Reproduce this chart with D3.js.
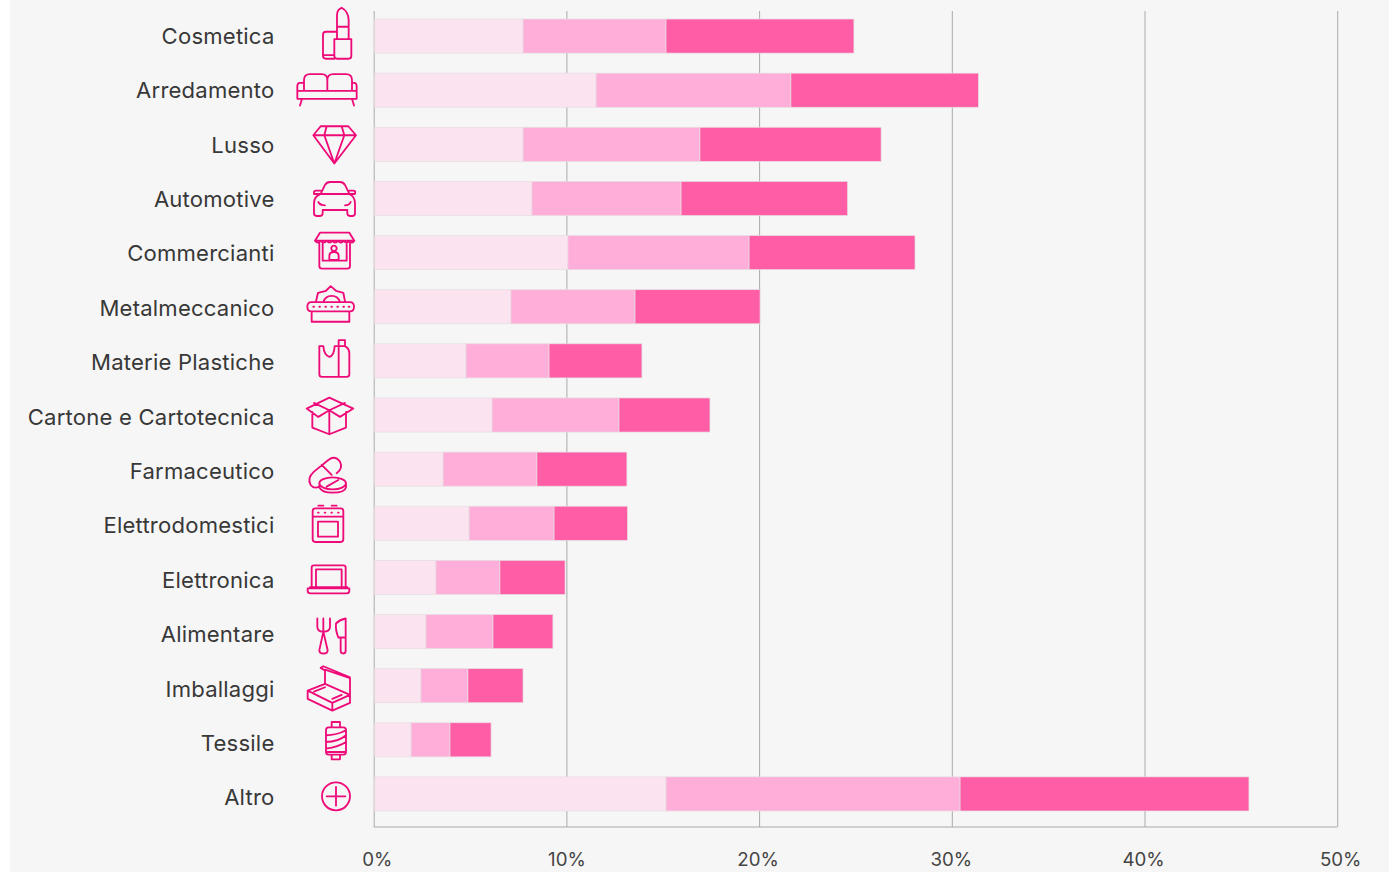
<!DOCTYPE html>
<html>
<head>
<meta charset="utf-8">
<script src="https://cdn.jsdelivr.net/npm/d3@7"></script>
<style>
html, body { margin: 0; padding: 0; background: #fff; overflow: hidden; }
svg { display: block; }
text { font-family: Inter, sans-serif; font-weight: 400; }
</style>
</head>
<body>
<div id="svg-area"></div>
<script>
// values (share in %, one array per stacked segment)
var categories = ["Cosmetica", "Arredamento", "Lusso", "Automotive", "Commercianti", "Metalmeccanico", "Materie Plastiche", "Cartone e Cartotecnica", "Farmaceutico", "Elettrodomestici", "Elettronica", "Alimentare", "Imballaggi", "Tessile", "Altro"];
var seriesA = [7.75, 11.54, 7.75, 8.21, 10.08, 7.12, 4.79, 6.14, 3.60, 4.95, 3.23, 2.71, 2.45, 1.94, 15.17];
var seriesB = [7.42, 10.11, 9.18, 7.74, 9.40, 6.44, 4.31, 6.59, 4.87, 4.41, 3.32, 3.48, 2.44, 2.02, 15.26];
var seriesC = [9.75, 9.73, 9.40, 8.64, 8.61, 6.49, 4.82, 4.72, 4.67, 3.81, 3.38, 3.11, 2.86, 2.13, 14.99];
var xTicks = [0, 10, 20, 30, 40, 50];
var colors = ["#fbe3f0", "#ffaed9", "#ff5ea6"];

// line icons, traced at 3x, one per category
var iconRows = [108, 271, 434, 598, 101, 264, 427, 590, 94, 257, 420, 583, 110, 274, 437];
var iconPaths = [
  "M133 117H184V168Q184 176 176 176H141Q133 176 133 168ZM141 117V80H176V117M141 80V45Q141 28 155 23Q176 35 176 60V80M133 176H108Q99 176 99 168V104Q99 95 108 95H141M101 165H133",
  "M22 272H200V296H22ZM42 272V240Q42 222 60 222H95Q112 222 112 240V272M112 240Q112 222 130 222H168Q186 222 186 240V272M42 248H30Q22 248 22 258V272M186 248H192Q200 248 200 258V272M36 296L30 316M186 296L192 316",
  "M70 405L92 378H175L198 405L133 490ZM70 405H198M110 378L103 405L133 490L163 405L155 378",
  "M92 582L105 555Q110 546 120 546H150Q160 546 165 555L178 582M92 582H178Q195 590 195 610V640Q195 648 188 648H180Q172 648 172 640V630H98V640Q98 648 90 648H80Q72 648 72 640V610Q72 590 92 582ZM92 572H78Q70 572 72 582H92M178 572H190Q198 572 195 582H178M85 606Q90 616 105 616M182 606Q178 616 165 616",
  "M75 62L90 38H178L193 62ZM75 62Q84 74 92 62Q101 74 110 62Q119 74 127 62Q136 74 144 62Q153 74 161 62Q170 74 178 62Q186 74 193 62M88 68V138Q88 146 96 146H172Q180 146 180 138V68M98 72V122H170V72M118 120V108Q118 96 132 96Q146 96 146 108V120ZM132 77A8 8 0 1 1 131.9 77Z",
  "M64 246H180Q192 246 192 260Q192 274 180 274H64Q52 274 52 260Q52 246 64 246ZM65 274V305H178V274M78 244L84 218L108 212L122 198L138 212L160 218L165 244M100 246A26 26 0 0 1 150 246M70 260H72M88 260H90M106 260H108M124 260H126M142 260H144M160 260H162M176 260H178",
  "M88 378V462Q88 470 96 470H170Q178 470 178 462V400Q178 385 165 378H146V468M88 378H100Q102 405 118 410Q132 408 134 378H146M146 378V360H165V378",
  "M67 575V622L118 642L168 622V575M118 642V572M50 565L118 532L190 565L150 590L118 570L85 590ZM72 548L118 570L165 548",
  "M72 95L115 60Q135 45 150 65Q160 85 140 100M72 95Q50 115 62 135Q72 148 88 140M95 75L125 105M88 130A40 18 0 1 1 168 130A40 18 0 1 1 88 130ZM88 135V142Q95 158 128 158Q165 158 168 142V132M110 140L145 120",
  "M76 205H152Q160 205 160 213V298Q160 306 152 306H76Q68 306 68 298V213Q68 205 76 205ZM68 230H160M84 245H144V290H84ZM85 197H100M125 197H140M84 218H86M104 218H106M124 218H126M144 218H146",
  "M65 440V382Q65 376 72 376H160Q167 376 167 382V440M78 440V388H155V440M53 445H178V452Q178 460 170 460H62Q53 460 53 452ZM60 441H172",
  "M82 535V560Q82 575 100 575Q120 575 120 560V535M100 535V575M100 575L88 630Q88 640 100 640Q113 640 113 630ZM167 535V632Q167 640 160 640Q152 640 152 632V592H145Q136 570 138 550Q150 538 167 535ZM152 592H167",
  "M53 115L105 95L180 128L127 152ZM53 115V140L127 175L180 152V128M127 152V175M72 118L105 105M105 95V52L180 78V128M105 55L92 47L100 42L180 75M155 128L127 140",
  "M125 210H150V226H125ZM125 308H150V322H125ZM116 226H160Q168 226 168 234V300Q168 308 160 308H116Q108 308 108 300V234Q108 226 116 226ZM108 250Q140 250 168 235M108 270Q145 270 168 250M108 290Q145 285 168 270M108 300H168",
  "M96 433A42 42 0 1 1 180 433A42 42 0 1 1 96 433ZM110 433H166M138 405V461"
];
// tick labels are not quite centred on their grid lines in the original
var tickNudge = [3, 0, -1.5, -1, -1.5, 3];

var svgWidth = 1389;
var svgHeight = 872;

var svg = d3.select("#svg-area").append("svg")
  .attr("width", svgWidth)
  .attr("height", svgHeight);

// grey panel, a thin white strip stays on the left
svg.append("rect")
  .attr("x", 10).attr("y", 0)
  .attr("width", svgWidth - 10).attr("height", svgHeight)
  .attr("fill", "#f6f6f6");

var x = d3.scaleLinear().domain([0, 50]).range([373.7, 1337.2]);

// bars and labels drift slightly apart in the original, hence two band scales
var yBar = d3.scaleBand().domain(categories).range([9, 821]).paddingInner(0.37).paddingOuter(0.185);
var yLabel = d3.scaleBand().domain(categories).range([8.9, 824.9]);

// grid + tick labels
var xAxis = d3.axisBottom(x)
  .tickValues(xTicks)
  .tickFormat(function(d) { return d + "%"; })
  .tickSize(-816)
  .tickPadding(26);

var axisG = svg.append("g")
  .attr("transform", "translate(0,827)")
  .call(xAxis);

axisG.select(".domain").remove();
axisG.selectAll("line").attr("stroke", "#aaaaaa").attr("stroke-width", 1);
axisG.selectAll("text")
  .attr("fill", "#444")
  .attr("dx", function(d, i) { return tickNudge[i]; })
  .style("font-size", "18.7px");

svg.append("line")
  .attr("x1", x(0)).attr("x2", x(50))
  .attr("y1", 827).attr("y2", 827)
  .attr("stroke", "#aaaaaa");

// stacked bars
var rows = categories.map(function(c, i) {
  return { category: c, a: seriesA[i], b: seriesB[i], c: seriesC[i] };
});
var stacked = d3.stack().keys(["a", "b", "c"])(rows);

svg.selectAll("g.layer")
  .data(stacked)
  .enter().append("g")
  .attr("class", "layer")
  .attr("fill", function(d, i) { return colors[i]; })
  .selectAll("rect")
  .data(function(d) { return d; })
  .enter().append("rect")
  .attr("x", function(d) { return x(d[0]) + (d[0] === 0 ? 1 : 0); })
  .attr("y", function(d) { return yBar(d.data.category); })
  .attr("width", function(d) { return x(d[1]) - x(d[0]) - (d[0] === 0 ? 1 : 0); })
  .attr("height", yBar.bandwidth())
  .attr("stroke", "#e6dde2")
  .attr("stroke-width", 0.7);

// category labels
svg.selectAll("text.cat")
  .data(categories)
  .enter().append("text")
  .attr("class", "cat")
  .attr("x", 274.5)
  .attr("y", function(d) { return yLabel(d) + yLabel.bandwidth() / 2; })
  .attr("dy", "0.35em")
  .attr("text-anchor", "end")
  .attr("fill", "#383838")
  .style("font-size", "22.1px")
  .style("letter-spacing", "0.2px")
  .text(function(d) { return d; });

// icons
svg.selectAll("path.icon")
  .data(categories)
  .enter().append("path")
  .attr("class", "icon")
  .attr("d", function(d, i) { return iconPaths[i]; })
  .attr("transform", function(d, i) {
    var cy = yLabel(d) + yLabel.bandwidth() / 2;
    return "translate(290," + cy + ") scale(0.3333) translate(0," + (-iconRows[i]) + ")";
  })
  .attr("fill", "none")
  .attr("stroke", "#ee0a78")
  .attr("stroke-width", 5.5)
  .attr("stroke-linejoin", "round")
  .attr("stroke-linecap", "round");
</script>
</body>
</html>
